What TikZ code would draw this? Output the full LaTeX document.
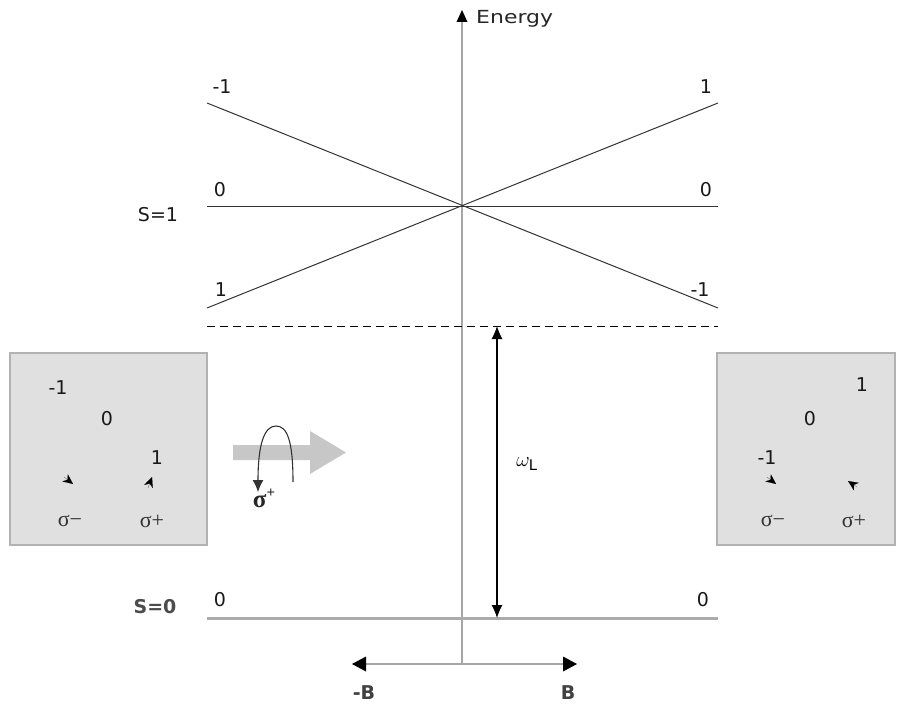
\documentclass[tikz,border=0pt]{standalone}
\usepackage{fontspec}
\setmainfont{DejaVu Sans}
\newfontfamily\sigfont{Liberation Serif}
\usetikzlibrary{arrows.meta}
\begin{document}
\begin{tikzpicture}[x=1pt,y=-1pt,
  lvl/.style={draw=black!80, line width=1pt},
  lbl/.style={font=\fontsize{19}{19}\selectfont, inner sep=0pt, text=black!90},
  sig/.style={font=\sigfont\fontsize{22}{22}\selectfont, inner sep=0pt, text=black!80},
  ax/.style={draw=black!35, line width=1.4pt},
  boxst/.style={draw=black!30, fill=black!12, line width=1.2pt},
  smalltip/.style={-{Stealth[length=10pt,width=9pt,inset=3pt]}, line width=0.1pt, black}]
\useasboundingbox (0,0) rectangle (902,706);

% side boxes
\draw[boxst] (10,353) rectangle (207,545);
\draw[boxst] (717,353) rectangle (895,545);

% big grey arrow
\fill[black!22] (233,445) -- (310,445) -- (310,431) -- (346,452.5) -- (310,474) -- (310,460) -- (233,460) -- cycle;
\coordinate (cs) at (293,482);
\coordinate (ce) at (258,492);
\draw[black!80, line width=1.1pt, -{Latex[length=12pt,width=11pt]}] (cs) .. controls (293,440) and (287,426) .. (276,426) .. controls (264,426) and (258,445) .. (ce);
\node[font=\sigfont\bfseries\fontsize{25}{25}\selectfont, inner sep=0pt, text=black!85] (sp) at (264,498) {σ\raisebox{0.4em}{\fontsize{15}{15}\selectfont+}};

% energy axis
\coordinate (ob) at (462,664);
\coordinate (ot) at (462,10);
\draw[ax] (ob) -- (462,22);
\fill[black] (ot) -- (456.5,22) -- (467.5,22) -- cycle;
\node[anchor=west, font=\fontsize{18}{18}\selectfont, inner sep=0pt, text=black!85] (en) at (476,19) {\scalebox{1.22}[1]{Energy}};

% B axis
\coordinate (bl) at (352,664);
\coordinate (br) at (577,664);
\draw[ax] (364,664) -- (565,664);
\fill[black] (bl) -- (366,656.5) -- (366,671.5) -- cycle;
\fill[black] (br) -- (563,656.5) -- (563,671.5) -- cycle;
\node[font=\bfseries\fontsize{19}{19}\selectfont, inner sep=0pt, text=black!75] (mB) at (364,693) {-B};
\node[font=\bfseries\fontsize{19}{19}\selectfont, inner sep=0pt, text=black!75] (pB) at (568,693) {B};

% S=1 levels
\coordinate (tl) at (207,103);
\coordinate (tr) at (718,103);
\coordinate (bll) at (207,308);
\coordinate (brr) at (718,308);
\coordinate (ml) at (207,206);
\coordinate (mr) at (718,206);
\draw[lvl] (tl) -- (brr);
\draw[lvl] (bll) -- (tr);
\draw[lvl] (ml) -- (mr);

% dashed
\coordinate (dl) at (207,326);
\coordinate (dr) at (718,326);
\draw[black, line width=1pt, dash pattern=on 8pt off 5pt] (dl) -- (dr);

% S=0 level
\coordinate (zl) at (207,618);
\coordinate (zr) at (718,618);
\draw[black!33, line width=3pt] (zl) -- (zr);

% omega arrow
\coordinate (wt) at (497,326);
\coordinate (wb) at (497,618);
\draw[black, line width=1.1pt, {Latex[length=13pt,width=11pt]}-{Latex[length=13pt,width=11pt]}] (wt) -- (wb);
\node[font=\fontsize{21}{21}\selectfont, inner sep=0pt] (wl) at (527,464) {$\omega_{\mathrm{L}}$};

% level labels
\node[lbl] (a1) at (222,87) {-1};
\node[lbl] (a2) at (706,87) {1};
\node[lbl] (a3) at (220,190) {0};
\node[lbl] (a4) at (706,190) {0};
\node[lbl] (a5) at (221,290) {1};
\node[lbl] (a6) at (700,290) {-1};
\node[lbl] (s1) at (158,215) {S=1};
\node[lbl, font=\bfseries\fontsize{19}{19}\selectfont, text=black!70] (s0) at (155,607) {S=0};
\node[lbl] (a7) at (220,600) {0};
\node[lbl] (a8) at (703,600) {0};

% left box contents
\node[lbl] (l1) at (58,388) {-1};
\node[lbl] (l2) at (107,419) {0};
\node[lbl] (l3) at (157,458) {1};
\draw[smalltip] (64,477) -- (73,484);
\draw[smalltip] (148,488) -- (152,477);
\node[sig] (l4) at (70,521) {σ−};
\node[sig] (l5) at (152,521) {σ+};

% right box contents
\node[lbl] (r1) at (862,385) {1};
\node[lbl] (r2) at (810,419) {0};
\node[lbl] (r3) at (767,458) {-1};
\draw[smalltip] (767,477) -- (776,484);
\draw[smalltip] (857,487) -- (848,481);
\node[sig] (r4) at (773,521) {σ−};
\node[sig] (r5) at (854,521) {σ+};
\end{tikzpicture}
\end{document}
